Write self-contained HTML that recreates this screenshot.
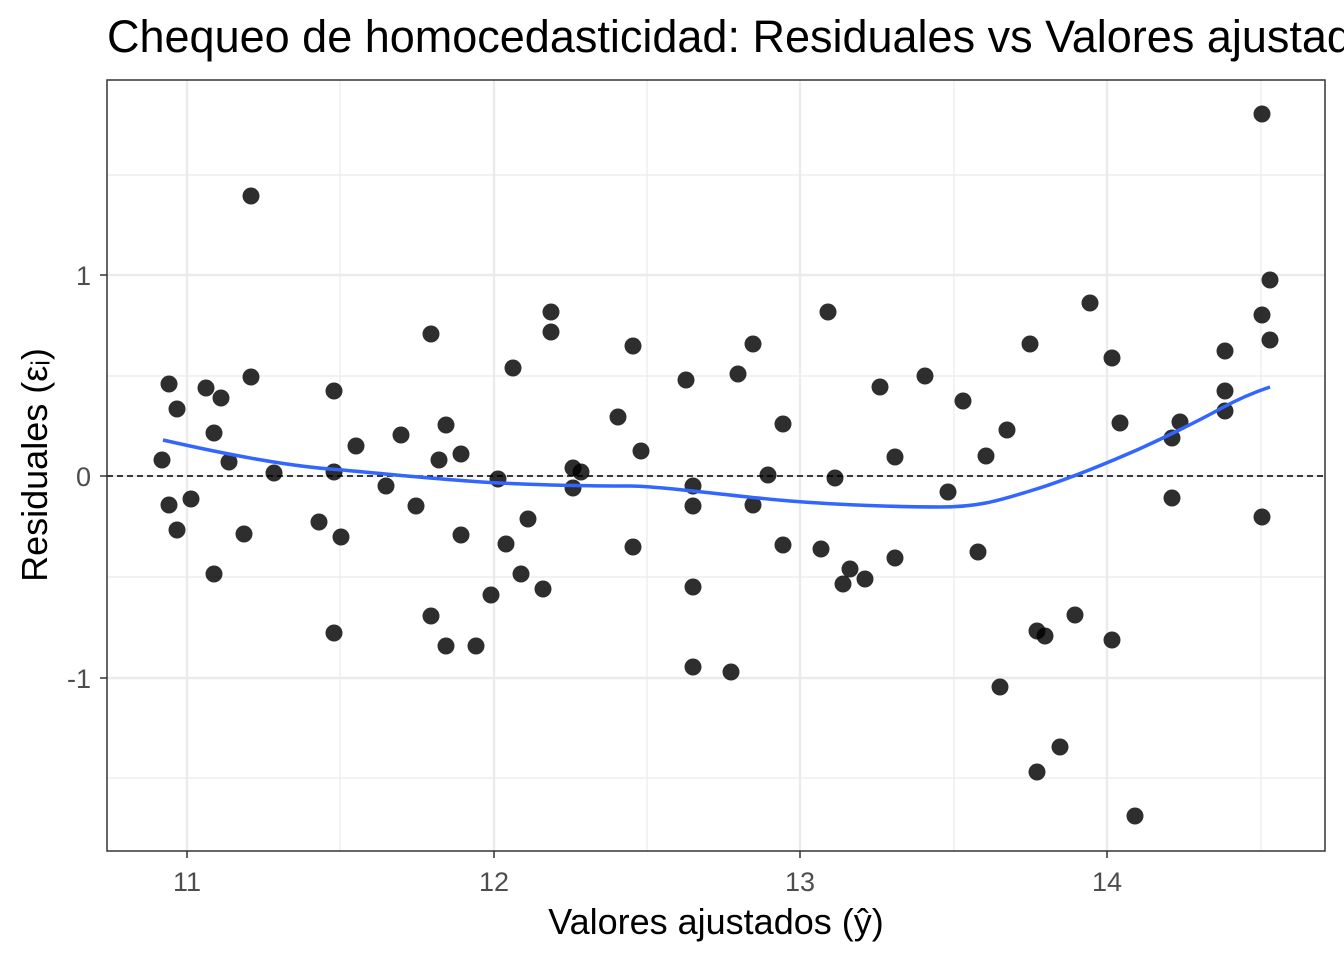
<!DOCTYPE html>
<html><head><meta charset="utf-8"><style>
html,body{margin:0;padding:0;background:#fff;overflow:hidden;}
</style></head><body>
<svg width="1344" height="960" xmlns="http://www.w3.org/2000/svg" font-family="Liberation Sans, Arial, sans-serif">
<rect width="1344" height="960" fill="#fff"/>
<g stroke="#ebebeb" stroke-width="1.2">
<line x1="340" y1="80" x2="340" y2="851"/><line x1="647" y1="80" x2="647" y2="851"/><line x1="954" y1="80" x2="954" y2="851"/><line x1="1261" y1="80" x2="1261" y2="851"/>
<line x1="107" y1="175" x2="1325" y2="175"/><line x1="107" y1="376" x2="1325" y2="376"/><line x1="107" y1="577" x2="1325" y2="577"/><line x1="107" y1="778" x2="1325" y2="778"/>
</g>
<g stroke="#ebebeb" stroke-width="2.4">
<line x1="187" y1="80" x2="187" y2="851"/><line x1="494" y1="80" x2="494" y2="851"/><line x1="800" y1="80" x2="800" y2="851"/><line x1="1107" y1="80" x2="1107" y2="851"/>
<line x1="107" y1="275" x2="1325" y2="275"/><line x1="107" y1="476" x2="1325" y2="476"/><line x1="107" y1="678" x2="1325" y2="678"/>
</g>
<line x1="107" y1="476" x2="1325" y2="476" stroke="#000" stroke-width="1.5" stroke-dasharray="6,4"/>
<g fill="#000" fill-opacity="0.82">
<circle cx="162" cy="460" r="8.5"/><circle cx="169" cy="384" r="8.5"/><circle cx="169" cy="505" r="8.5"/><circle cx="177" cy="409" r="8.5"/><circle cx="177" cy="530" r="8.5"/><circle cx="191" cy="499" r="8.5"/><circle cx="206" cy="388" r="8.5"/><circle cx="214" cy="433" r="8.5"/><circle cx="214" cy="574" r="8.5"/><circle cx="221" cy="398" r="8.5"/><circle cx="229" cy="462" r="8.5"/><circle cx="244" cy="534" r="8.5"/><circle cx="251" cy="196" r="8.5"/><circle cx="251" cy="377" r="8.5"/><circle cx="274" cy="473" r="8.5"/><circle cx="319" cy="522" r="8.5"/><circle cx="334" cy="391" r="8.5"/><circle cx="334" cy="472" r="8.5"/><circle cx="334" cy="633" r="8.5"/><circle cx="341" cy="537" r="8.5"/><circle cx="356" cy="446" r="8.5"/><circle cx="386" cy="486" r="8.5"/><circle cx="401" cy="435" r="8.5"/><circle cx="416" cy="506" r="8.5"/><circle cx="431" cy="334" r="8.5"/><circle cx="431" cy="616" r="8.5"/><circle cx="439" cy="460" r="8.5"/><circle cx="446" cy="425" r="8.5"/><circle cx="446" cy="646" r="8.5"/><circle cx="461" cy="454" r="8.5"/><circle cx="461" cy="535" r="8.5"/><circle cx="476" cy="646" r="8.5"/><circle cx="491" cy="595" r="8.5"/><circle cx="498" cy="479" r="8.5"/><circle cx="506" cy="544" r="8.5"/><circle cx="513" cy="368" r="8.5"/><circle cx="521" cy="574" r="8.5"/><circle cx="528" cy="519" r="8.5"/><circle cx="543" cy="589" r="8.5"/><circle cx="551" cy="312" r="8.5"/><circle cx="551" cy="332" r="8.5"/><circle cx="573" cy="468" r="8.5"/><circle cx="573" cy="488" r="8.5"/><circle cx="581" cy="472" r="8.5"/><circle cx="618" cy="417" r="8.5"/><circle cx="633" cy="346" r="8.5"/><circle cx="633" cy="547" r="8.5"/><circle cx="641" cy="451" r="8.5"/><circle cx="686" cy="380" r="8.5"/><circle cx="693" cy="486" r="8.5"/><circle cx="693" cy="506" r="8.5"/><circle cx="693" cy="587" r="8.5"/><circle cx="693" cy="667" r="8.5"/><circle cx="731" cy="672" r="8.5"/><circle cx="738" cy="374" r="8.5"/><circle cx="753" cy="344" r="8.5"/><circle cx="753" cy="505" r="8.5"/><circle cx="768" cy="475" r="8.5"/><circle cx="783" cy="424" r="8.5"/><circle cx="783" cy="545" r="8.5"/><circle cx="821" cy="549" r="8.5"/><circle cx="828" cy="312" r="8.5"/><circle cx="835" cy="478" r="8.5"/><circle cx="843" cy="584" r="8.5"/><circle cx="850" cy="569" r="8.5"/><circle cx="865" cy="579" r="8.5"/><circle cx="880" cy="387" r="8.5"/><circle cx="895" cy="457" r="8.5"/><circle cx="895" cy="558" r="8.5"/><circle cx="925" cy="376" r="8.5"/><circle cx="948" cy="492" r="8.5"/><circle cx="963" cy="401" r="8.5"/><circle cx="978" cy="552" r="8.5"/><circle cx="986" cy="456" r="8.5"/><circle cx="1000" cy="687" r="8.5"/><circle cx="1007" cy="430" r="8.5"/><circle cx="1030" cy="344" r="8.5"/><circle cx="1037" cy="631" r="8.5"/><circle cx="1037" cy="772" r="8.5"/><circle cx="1045" cy="636" r="8.5"/><circle cx="1060" cy="747" r="8.5"/><circle cx="1075" cy="615" r="8.5"/><circle cx="1090" cy="303" r="8.5"/><circle cx="1112" cy="358" r="8.5"/><circle cx="1112" cy="640" r="8.5"/><circle cx="1120" cy="423" r="8.5"/><circle cx="1135" cy="816" r="8.5"/><circle cx="1172" cy="438" r="8.5"/><circle cx="1172" cy="498" r="8.5"/><circle cx="1180" cy="422" r="8.5"/><circle cx="1225" cy="351" r="8.5"/><circle cx="1225" cy="391" r="8.5"/><circle cx="1225" cy="411" r="8.5"/><circle cx="1262" cy="114" r="8.5"/><circle cx="1262" cy="315" r="8.5"/><circle cx="1262" cy="517" r="8.5"/><circle cx="1270" cy="280" r="8.5"/><circle cx="1270" cy="340" r="8.5"/>
</g>
<path d="M163,440 C220,453 280,465 330,469 S440,480 500,483 S600,486 630,486 S740,497 790,501 S900,507 940,507 S1000,500 1030,491 S1100,466 1130,453 S1200,420 1220,409 S1255,392 1270,387" fill="none" stroke="#3366ff" stroke-width="3.5"/>
<rect x="107" y="80" width="1218" height="771" fill="none" stroke="#333" stroke-width="1.5"/>
<g stroke="#333" stroke-width="1.5">
<line x1="187" y1="851" x2="187" y2="858"/><line x1="494" y1="851" x2="494" y2="858"/><line x1="800" y1="851" x2="800" y2="858"/><line x1="1107" y1="851" x2="1107" y2="858"/>
<line x1="100" y1="275" x2="107" y2="275"/><line x1="100" y1="476" x2="107" y2="476"/><line x1="100" y1="678" x2="107" y2="678"/>
</g>
<g fill="#4d4d4d" font-size="27">
<text x="187" y="891" text-anchor="middle">11</text><text x="494" y="891" text-anchor="middle">12</text><text x="800" y="891" text-anchor="middle">13</text><text x="1107" y="891" text-anchor="middle">14</text>
<text x="91" y="285" text-anchor="end">1</text><text x="91" y="486" text-anchor="end">0</text><text x="91" y="688" text-anchor="end">-1</text>
</g>
<text x="716" y="934" text-anchor="middle" font-size="36" fill="#000">Valores ajustados (ŷ)</text>
<text transform="translate(47,465) rotate(-90)" text-anchor="middle" font-size="36" fill="#000">Residuales (εᵢ)</text>
<text x="107" y="52" font-size="45" fill="#000">Chequeo de homocedasticidad: Residuales vs Valores ajustados</text>
</svg>
</body></html>
